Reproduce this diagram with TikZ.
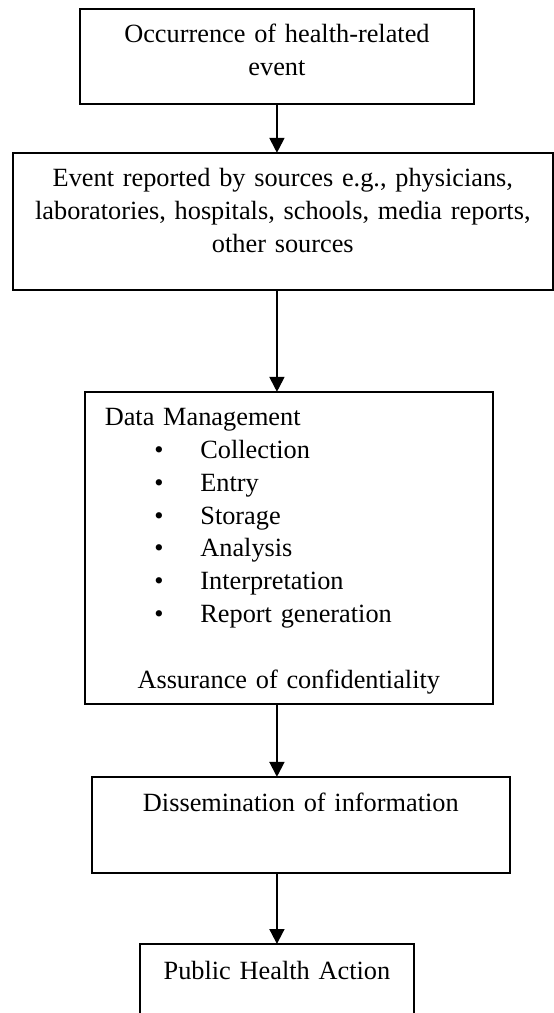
\documentclass[tikz,border=0pt]{standalone}
\usepackage{fontspec}
\setmainfont{Liberation Serif}
\usepackage{tikz}
\usetikzlibrary{arrows.meta,positioning}

\newcommand{\dmitem}[1]{\hspace*{22.6pt}\makebox[21pt][l]{\textbullet}#1}

\begin{document}
\begin{tikzpicture}[>={Triangle[length=6.8pt,width=6.8pt]},
		node distance = 22pt,
		box/.style = {draw, line width=0.9pt, inner xsep=0pt, inner ysep=0pt, outer sep=0pt,
			align=center, text height=15.5pt, font=\fontsize{12}{15}\selectfont},
		flow/.style = {->, line width=0.9pt}
		]
		\clip (0,0) rectangle (252.6pt,-462pt);
		\coordinate (axis) at (126.3pt,0);
		
		\node (event) [box, anchor=north, text width=179.7pt, text depth=27.8pt] at (126.3pt,-4.1pt)
			{Occurrence of health-related\\ event};
		\node (report) [box, below=22.3pt of event, xshift=2.7pt, text width=246.2pt, text depth=47pt]
			{Event reported by sources e.g., physicians,\\ laboratories, hospitals, schools, media reports,\\ other sources};
		\node (manage) [box, below=46.5pt of report, xshift=2.7pt, text width=167.8pt, inner xsep=9.1pt,
			align=left, text height=15.3pt, text depth=127pt]
			{Data Management\\
			\dmitem{Collection}\\
			\dmitem{Entry}\\
			\dmitem{Storage}\\
			\dmitem{Analysis}\\
			\dmitem{Interpretation}\\
			\dmitem{Report generation}\\[15pt]
			\makebox[\linewidth]{Assurance of confidentiality}};
		\node (dissem) [box, below=33.3pt of manage, xshift=5.5pt, text width=190.6pt, text height=16pt, text depth=27.8pt]
			{Dissemination of information};
		\node (action) [box, below=32.4pt of dissem, xshift=-10.9pt, text width=125pt, text height=16.4pt, text depth=40pt]
			{Public Health Action};
		
		\draw[flow] (event.south -| axis) -- (report.north -| axis);
		\draw[flow] (report.south -| axis) -- (manage.north -| axis);
		\draw[flow] (manage.south -| axis) -- (dissem.north -| axis);
		\draw[flow] (dissem.south -| axis) -- (action.north -| axis);
\end{tikzpicture}
\end{document}
